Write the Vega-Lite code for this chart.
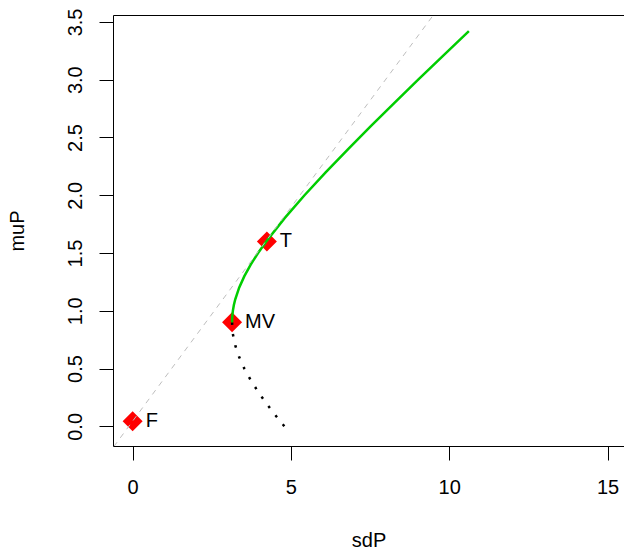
{
  "$schema": "https://vega.github.io/schema/vega-lite/v6.json",
  "autosize": "none",
  "padding": {"left": 113, "top": 15, "right": 0, "bottom": 106},
  "width": 511,
  "height": 431,
  "background": "white",
  "view": {"stroke": null},
  "config": {
    "font": "Liberation Sans",
    "axis": {
      "grid": false,
      "domainColor": "black",
      "domainWidth": 1,
      "tickColor": "black",
      "tickWidth": 1,
      "labelColor": "black",
      "labelFontSize": 20,
      "titleColor": "black",
      "titleFontSize": 20,
      "titleFontWeight": "normal"
    }
  },
  "datasets": {
    "frontier": [
      {"sdP": 3.140, "muP": 0.90},
      {"sdP": 3.1465, "muP": 0.95},
      {"sdP": 3.1658, "muP": 1.00},
      {"sdP": 3.1976, "muP": 1.05},
      {"sdP": 3.2416, "muP": 1.10},
      {"sdP": 3.3644, "muP": 1.20},
      {"sdP": 3.5290, "muP": 1.30},
      {"sdP": 3.7299, "muP": 1.40},
      {"sdP": 3.9618, "muP": 1.50},
      {"sdP": 4.2194, "muP": 1.60},
      {"sdP": 4.7948, "muP": 1.80},
      {"sdP": 5.4290, "muP": 2.00},
      {"sdP": 6.1037, "muP": 2.20},
      {"sdP": 6.8067, "muP": 2.40},
      {"sdP": 7.5306, "muP": 2.60},
      {"sdP": 8.2692, "muP": 2.80},
      {"sdP": 9.0194, "muP": 3.00},
      {"sdP": 9.7780, "muP": 3.20},
      {"sdP": 10.6207, "muP": 3.42}
    ],
    "lower": [
      {"sdP": 3.140, "muP": 0.90},
      {"sdP": 3.1658, "muP": 0.80},
      {"sdP": 3.2416, "muP": 0.70},
      {"sdP": 3.3644, "muP": 0.60},
      {"sdP": 3.5290, "muP": 0.50},
      {"sdP": 3.7299, "muP": 0.40},
      {"sdP": 3.9618, "muP": 0.30},
      {"sdP": 4.2194, "muP": 0.20},
      {"sdP": 4.4982, "muP": 0.10},
      {"sdP": 4.7948, "muP": 0.00},
      {"sdP": 4.95, "muP": -0.045}
    ],
    "tangent": [
      {"sdP": -1.0, "muP": -0.325},
      {"sdP": 10.5, "muP": 3.93}
    ],
    "pts": [
      {"sdP": 0.0, "muP": 0.045, "label": "F"},
      {"sdP": 4.24, "muP": 1.60, "label": "T"},
      {"sdP": 3.14, "muP": 0.90, "label": "MV"}
    ]
  },
  "layer": [
    {
      "data": {"name": "pts"},
      "mark": {"type": "point", "shape": "diamond", "filled": true, "size": 400, "color": "#FF0000", "opacity": 1},
      "encoding": {
        "x": {"field": "sdP", "type": "quantitative",
              "scale": {"domain": [-0.62, 15.52], "nice": false, "zero": false},
              "axis": {"orient": "bottom", "values": [0, 5, 10, 15], "tickSize": 14, "labelPadding": 17, "title": "sdP", "titlePadding": 33}},
        "y": {"field": "muP", "type": "quantitative",
              "scale": {"domain": [-0.17, 3.56], "nice": false, "zero": false},
              "axis": {"values": [0, 0.5, 1, 1.5, 2, 2.5, 3, 3.5], "format": ".1f", "tickSize": 14, "labelAngle": -90, "labelAlign": "center", "labelBaseline": "bottom", "labelPadding": 14, "title": "muP", "titlePadding": 38}}
      }
    },
    {
      "data": {"name": "pts"},
      "mark": {"type": "text", "align": "left", "baseline": "middle", "dx": 13, "fontSize": 20, "color": "black"},
      "encoding": {
        "x": {"field": "sdP", "type": "quantitative", "axis": null},
        "y": {"field": "muP", "type": "quantitative"},
        "text": {"field": "label"}
      }
    },
    {
      "data": {"name": "lower"},
      "mark": {"type": "line", "color": "black", "strokeWidth": 2.5, "strokeDash": [2.5, 9.1]},
      "encoding": {
        "x": {"field": "sdP", "type": "quantitative", "axis": null},
        "y": {"field": "muP", "type": "quantitative"}
      }
    },
    {
      "data": {"name": "frontier"},
      "mark": {"type": "line", "color": "#00CD00", "strokeWidth": 2.5},
      "encoding": {
        "x": {"field": "sdP", "type": "quantitative", "axis": null},
        "y": {"field": "muP", "type": "quantitative"}
      }
    },
    {
      "data": {"name": "tangent"},
      "mark": {"type": "line", "color": "#BEBEBE", "strokeWidth": 1, "strokeDash": [5.4, 5.4], "clip": true},
      "encoding": {
        "x": {"field": "sdP", "type": "quantitative",
              "axis": {"orient": "top", "labels": false, "ticks": false, "title": null, "domain": true}},
        "y": {"field": "muP", "type": "quantitative"}
      }
    }
  ],
  "resolve": {"axis": {"x": "independent"}}
}
